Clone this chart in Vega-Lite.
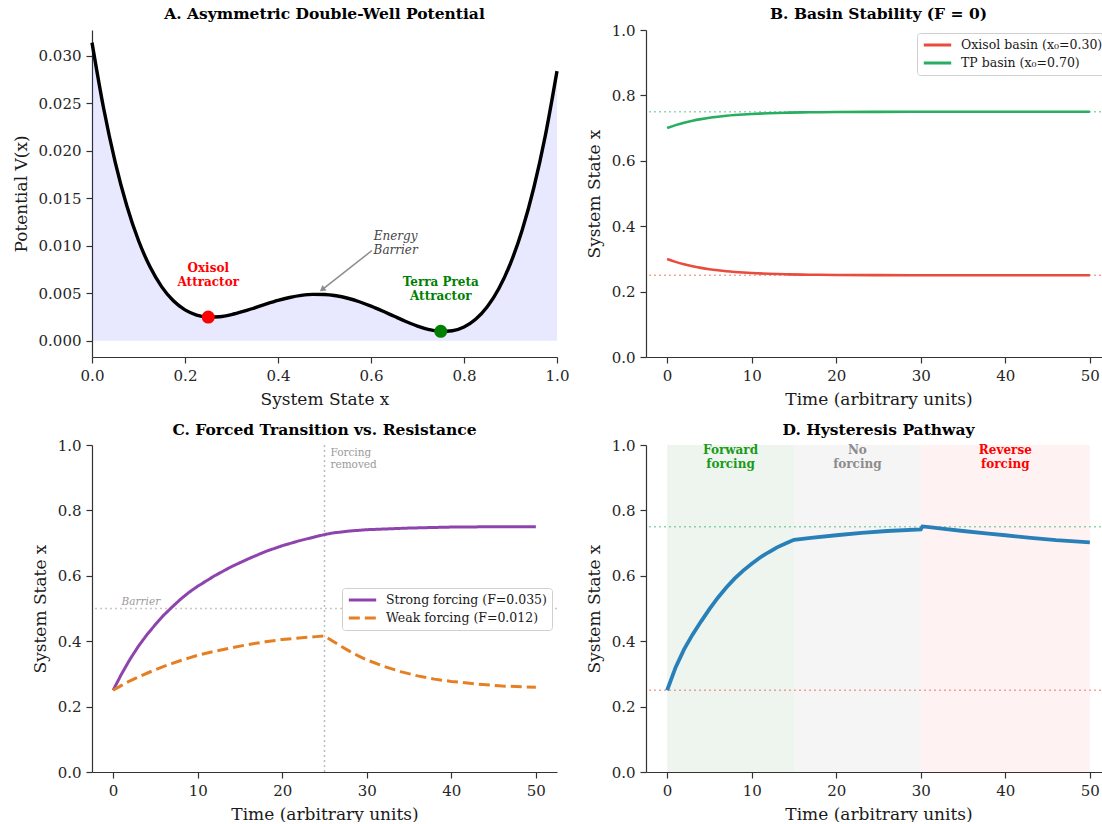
{
  "$schema": "https://vega.github.io/schema/vega-lite/v6.json",
  "padding": {"left": 12, "top": 6, "right": 0, "bottom": 0},
  "background": "white",
  "columns": 2,
  "bounds": "flush",
  "spacing": {"row": 88, "column": 89},
  "resolve": {
    "scale": {"color": "independent", "stroke": "independent", "fill": "independent", "strokeDash": "independent"},
    "legend": {"color": "independent", "stroke": "independent", "fill": "independent", "strokeDash": "independent"}
  },
  "config": {
    "font": "DejaVu Serif",
    "view": {"stroke": null},
    "axis": {"grid": false, "domainColor": "#333333", "domainWidth": 1.2, "tickColor": "#333333", "tickWidth": 1.2, "tickSize": 6, "labelFont": "DejaVu Serif", "labelFontSize": 15, "labelColor": "#262626", "labelPadding": 5, "titleFont": "DejaVu Serif", "titleFontSize": 17, "titleFontWeight": "normal", "titleColor": "#1a1a1a", "labelFlush": false, "labelOverlap": false, "titlePadding": 8},
    "title": {"font": "DejaVu Serif", "fontSize": 15.5, "fontWeight": "bold", "color": "black", "anchor": "middle"},
    "legend": {"labelFont": "DejaVu Serif", "labelFontSize": 12.5, "labelColor": "#1a1a1a", "labelLimit": 400, "strokeColor": "#d0d0d0", "fillColor": "white", "padding": 5, "cornerRadius": 3, "symbolType": "stroke", "symbolStrokeWidth": 3, "symbolSize": 750, "clipHeight": 14, "rowPadding": 4, "labelOffset": 8}
  },
  "datasets": {
    "potential": [
      {"x": 0.0, "V": 0.031375}, {"x": 0.025, "V": 0.024463}, {"x": 0.05, "V": 0.01878}, {"x": 0.075, "V": 0.014188},
      {"x": 0.1, "V": 0.010555}, {"x": 0.125, "V": 0.007758}, {"x": 0.15, "V": 0.00568}, {"x": 0.175, "V": 0.004213},
      {"x": 0.2, "V": 0.003255}, {"x": 0.225, "V": 0.002713}, {"x": 0.25, "V": 0.0025}, {"x": 0.275, "V": 0.002538},
      {"x": 0.3, "V": 0.002755}, {"x": 0.325, "V": 0.003088}, {"x": 0.35, "V": 0.00348}, {"x": 0.375, "V": 0.003883},
      {"x": 0.4, "V": 0.004255}, {"x": 0.425, "V": 0.004563}, {"x": 0.45, "V": 0.00478}, {"x": 0.475, "V": 0.004888},
      {"x": 0.5, "V": 0.004875}, {"x": 0.525, "V": 0.004738}, {"x": 0.55, "V": 0.00448}, {"x": 0.575, "V": 0.004113},
      {"x": 0.6, "V": 0.003655}, {"x": 0.625, "V": 0.003133}, {"x": 0.65, "V": 0.00258}, {"x": 0.675, "V": 0.002038},
      {"x": 0.7, "V": 0.001555}, {"x": 0.725, "V": 0.001188}, {"x": 0.75, "V": 0.001}, {"x": 0.775, "V": 0.001063},
      {"x": 0.8, "V": 0.001455}, {"x": 0.825, "V": 0.002263}, {"x": 0.85, "V": 0.00358}, {"x": 0.875, "V": 0.005508},
      {"x": 0.9, "V": 0.008155}, {"x": 0.925, "V": 0.011638}, {"x": 0.95, "V": 0.01608}, {"x": 0.975, "V": 0.021613},
      {"x": 1.0, "V": 0.028375}
    ],
    "attractors": [
      {"name": "Oxisol", "x": 0.25, "V": 0.0025, "label": "Oxisol\nAttractor", "ly": 0.00763},
      {"name": "Terra Preta", "x": 0.75, "V": 0.001, "label": "Terra Preta\nAttractor", "ly": 0.00621}
    ],
    "barrierNote": [{"x": 0.653, "V": 0.01105, "label": "Energy\nBarrier"}],
    "arrow": [{"x0": 0.602, "y0": 0.0095, "x1": 0.493, "y1": 0.0053}],
    "arrowHead": [{"x": 0.4967, "V": 0.00546}],
    "basinRefs": [{"level": 0.25, "basin": "Oxisol"}, {"level": 0.75, "basin": "TP"}],
    "basin": [
      {"t": 0, "x": 0.3, "s": "Oxisol basin (x₀=0.30)"}, {"t": 1, "x": 0.2909, "s": "Oxisol basin (x₀=0.30)"},
      {"t": 2, "x": 0.2835, "s": "Oxisol basin (x₀=0.30)"}, {"t": 3, "x": 0.2774, "s": "Oxisol basin (x₀=0.30)"},
      {"t": 4, "x": 0.2725, "s": "Oxisol basin (x₀=0.30)"}, {"t": 5, "x": 0.2684, "s": "Oxisol basin (x₀=0.30)"},
      {"t": 6, "x": 0.2651, "s": "Oxisol basin (x₀=0.30)"}, {"t": 7, "x": 0.2623, "s": "Oxisol basin (x₀=0.30)"},
      {"t": 8, "x": 0.2601, "s": "Oxisol basin (x₀=0.30)"}, {"t": 9, "x": 0.2583, "s": "Oxisol basin (x₀=0.30)"},
      {"t": 10, "x": 0.2568, "s": "Oxisol basin (x₀=0.30)"}, {"t": 12, "x": 0.2545, "s": "Oxisol basin (x₀=0.30)"},
      {"t": 14, "x": 0.253, "s": "Oxisol basin (x₀=0.30)"}, {"t": 16, "x": 0.252, "s": "Oxisol basin (x₀=0.30)"},
      {"t": 18, "x": 0.2514, "s": "Oxisol basin (x₀=0.30)"}, {"t": 20, "x": 0.2509, "s": "Oxisol basin (x₀=0.30)"},
      {"t": 25, "x": 0.2503, "s": "Oxisol basin (x₀=0.30)"}, {"t": 30, "x": 0.2501, "s": "Oxisol basin (x₀=0.30)"},
      {"t": 35, "x": 0.25, "s": "Oxisol basin (x₀=0.30)"}, {"t": 40, "x": 0.25, "s": "Oxisol basin (x₀=0.30)"},
      {"t": 50, "x": 0.25, "s": "Oxisol basin (x₀=0.30)"},
      {"t": 0, "x": 0.7, "s": "TP basin (x₀=0.70)"}, {"t": 1, "x": 0.7091, "s": "TP basin (x₀=0.70)"},
      {"t": 2, "x": 0.7165, "s": "TP basin (x₀=0.70)"}, {"t": 3, "x": 0.7226, "s": "TP basin (x₀=0.70)"},
      {"t": 4, "x": 0.7275, "s": "TP basin (x₀=0.70)"}, {"t": 5, "x": 0.7316, "s": "TP basin (x₀=0.70)"},
      {"t": 6, "x": 0.7349, "s": "TP basin (x₀=0.70)"}, {"t": 7, "x": 0.7377, "s": "TP basin (x₀=0.70)"},
      {"t": 8, "x": 0.7399, "s": "TP basin (x₀=0.70)"}, {"t": 9, "x": 0.7417, "s": "TP basin (x₀=0.70)"},
      {"t": 10, "x": 0.7432, "s": "TP basin (x₀=0.70)"}, {"t": 12, "x": 0.7455, "s": "TP basin (x₀=0.70)"},
      {"t": 14, "x": 0.747, "s": "TP basin (x₀=0.70)"}, {"t": 16, "x": 0.748, "s": "TP basin (x₀=0.70)"},
      {"t": 18, "x": 0.7486, "s": "TP basin (x₀=0.70)"}, {"t": 20, "x": 0.7491, "s": "TP basin (x₀=0.70)"},
      {"t": 25, "x": 0.7497, "s": "TP basin (x₀=0.70)"}, {"t": 30, "x": 0.7499, "s": "TP basin (x₀=0.70)"},
      {"t": 35, "x": 0.75, "s": "TP basin (x₀=0.70)"}, {"t": 40, "x": 0.75, "s": "TP basin (x₀=0.70)"},
      {"t": 50, "x": 0.75, "s": "TP basin (x₀=0.70)"}
    ],
    "forced": [
      {"t": 0, "x": 0.25, "s": "Strong forcing (F=0.035)"}, {"t": 1, "x": 0.30, "s": "Strong forcing (F=0.035)"},
      {"t": 2, "x": 0.345, "s": "Strong forcing (F=0.035)"}, {"t": 3, "x": 0.385, "s": "Strong forcing (F=0.035)"},
      {"t": 4, "x": 0.42, "s": "Strong forcing (F=0.035)"}, {"t": 5, "x": 0.451, "s": "Strong forcing (F=0.035)"},
      {"t": 6, "x": 0.48, "s": "Strong forcing (F=0.035)"}, {"t": 7, "x": 0.505, "s": "Strong forcing (F=0.035)"},
      {"t": 8, "x": 0.529, "s": "Strong forcing (F=0.035)"}, {"t": 9, "x": 0.55, "s": "Strong forcing (F=0.035)"},
      {"t": 10, "x": 0.568, "s": "Strong forcing (F=0.035)"}, {"t": 12, "x": 0.60, "s": "Strong forcing (F=0.035)"},
      {"t": 14, "x": 0.628, "s": "Strong forcing (F=0.035)"}, {"t": 16, "x": 0.652, "s": "Strong forcing (F=0.035)"},
      {"t": 18, "x": 0.674, "s": "Strong forcing (F=0.035)"}, {"t": 20, "x": 0.692, "s": "Strong forcing (F=0.035)"},
      {"t": 22, "x": 0.707, "s": "Strong forcing (F=0.035)"}, {"t": 24, "x": 0.72, "s": "Strong forcing (F=0.035)"},
      {"t": 25, "x": 0.726, "s": "Strong forcing (F=0.035)"}, {"t": 26, "x": 0.731, "s": "Strong forcing (F=0.035)"},
      {"t": 28, "x": 0.737, "s": "Strong forcing (F=0.035)"}, {"t": 30, "x": 0.741, "s": "Strong forcing (F=0.035)"},
      {"t": 35, "x": 0.746, "s": "Strong forcing (F=0.035)"}, {"t": 40, "x": 0.749, "s": "Strong forcing (F=0.035)"},
      {"t": 45, "x": 0.75, "s": "Strong forcing (F=0.035)"}, {"t": 50, "x": 0.75, "s": "Strong forcing (F=0.035)"},
      {"t": 0, "x": 0.25, "s": "Weak forcing (F=0.012)"}, {"t": 1, "x": 0.265, "s": "Weak forcing (F=0.012)"},
      {"t": 2, "x": 0.279, "s": "Weak forcing (F=0.012)"}, {"t": 3, "x": 0.291, "s": "Weak forcing (F=0.012)"},
      {"t": 4, "x": 0.302, "s": "Weak forcing (F=0.012)"}, {"t": 5, "x": 0.313, "s": "Weak forcing (F=0.012)"},
      {"t": 6, "x": 0.323, "s": "Weak forcing (F=0.012)"}, {"t": 7, "x": 0.332, "s": "Weak forcing (F=0.012)"},
      {"t": 8, "x": 0.341, "s": "Weak forcing (F=0.012)"}, {"t": 9, "x": 0.349, "s": "Weak forcing (F=0.012)"},
      {"t": 10, "x": 0.357, "s": "Weak forcing (F=0.012)"}, {"t": 12, "x": 0.369, "s": "Weak forcing (F=0.012)"},
      {"t": 14, "x": 0.38, "s": "Weak forcing (F=0.012)"}, {"t": 16, "x": 0.39, "s": "Weak forcing (F=0.012)"},
      {"t": 18, "x": 0.398, "s": "Weak forcing (F=0.012)"}, {"t": 20, "x": 0.405, "s": "Weak forcing (F=0.012)"},
      {"t": 22, "x": 0.41, "s": "Weak forcing (F=0.012)"}, {"t": 24, "x": 0.414, "s": "Weak forcing (F=0.012)"},
      {"t": 25, "x": 0.416, "s": "Weak forcing (F=0.012)"}, {"t": 26, "x": 0.40, "s": "Weak forcing (F=0.012)"},
      {"t": 27, "x": 0.384, "s": "Weak forcing (F=0.012)"}, {"t": 28, "x": 0.369, "s": "Weak forcing (F=0.012)"},
      {"t": 29, "x": 0.355, "s": "Weak forcing (F=0.012)"}, {"t": 30, "x": 0.343, "s": "Weak forcing (F=0.012)"},
      {"t": 32, "x": 0.323, "s": "Weak forcing (F=0.012)"}, {"t": 34, "x": 0.307, "s": "Weak forcing (F=0.012)"},
      {"t": 36, "x": 0.294, "s": "Weak forcing (F=0.012)"}, {"t": 38, "x": 0.284, "s": "Weak forcing (F=0.012)"},
      {"t": 40, "x": 0.277, "s": "Weak forcing (F=0.012)"}, {"t": 43, "x": 0.269, "s": "Weak forcing (F=0.012)"},
      {"t": 46, "x": 0.263, "s": "Weak forcing (F=0.012)"}, {"t": 50, "x": 0.259, "s": "Weak forcing (F=0.012)"}
    ],
    "hyst": [
      {"t": 0, "x": 0.25}, {"t": 1, "x": 0.32}, {"t": 2, "x": 0.375}, {"t": 3, "x": 0.42}, {"t": 4, "x": 0.46},
      {"t": 5, "x": 0.498}, {"t": 6, "x": 0.533}, {"t": 7, "x": 0.564}, {"t": 8, "x": 0.592}, {"t": 9, "x": 0.616},
      {"t": 10, "x": 0.637}, {"t": 11, "x": 0.656}, {"t": 12, "x": 0.672}, {"t": 13, "x": 0.687}, {"t": 14, "x": 0.699},
      {"t": 15, "x": 0.71}, {"t": 17, "x": 0.716}, {"t": 20, "x": 0.724}, {"t": 23, "x": 0.731}, {"t": 26, "x": 0.737},
      {"t": 30, "x": 0.742}, {"t": 30.2, "x": 0.751}, {"t": 31, "x": 0.749}, {"t": 33, "x": 0.743}, {"t": 35, "x": 0.737},
      {"t": 38, "x": 0.729}, {"t": 40, "x": 0.724}, {"t": 43, "x": 0.716}, {"t": 46, "x": 0.709}, {"t": 50, "x": 0.702}
    ],
    "phases": [
      {"phase": "Forward", "start": 0, "end": 15, "mid": 7.5, "label": "Forward\nforcing"},
      {"phase": "None", "start": 15, "end": 30, "mid": 22.5, "label": "No\nforcing"},
      {"phase": "Reverse", "start": 30, "end": 50, "mid": 40, "label": "Reverse\nforcing"}
    ],
    "barrierLine": [{"level": 0.5, "t": 1, "label": "Barrier", "ly": 0.52}],
    "removal": [{"t": 25, "tx": 25.7, "ly": 0.976, "label": "Forcing\nremoved"}]
  },
  "concat": [
    {
      "width": 465, "height": 327,
      "title": {"text": "A. Asymmetric Double-Well Potential", "offset": 8},
      "layer": [
        {
          "data": {"name": "potential"},
          "mark": {"type": "area", "color": "#0000ff", "opacity": 0.09, "interpolate": "monotone"},
          "encoding": {
            "x": {"field": "x", "type": "quantitative", "scale": {"domain": [0, 1], "nice": false, "zero": false}, "axis": {"values": [0, 0.2, 0.4, 0.6, 0.8, 1.0], "format": ".1f", "title": "System State x"}},
            "y": {"field": "V", "type": "quantitative", "scale": {"domain": [-0.0017, 0.0327], "nice": false, "zero": false}, "axis": {"values": [0, 0.005, 0.01, 0.015, 0.02, 0.025, 0.03], "format": ".3f", "title": "Potential V(x)"}},
            "y2": {"datum": 0}
          }
        },
        {
          "data": {"name": "potential"},
          "mark": {"type": "line", "color": "black", "strokeWidth": 3.4, "interpolate": "monotone"},
          "encoding": {"x": {"field": "x", "type": "quantitative"}, "y": {"field": "V", "type": "quantitative"}}
        },
        {
          "data": {"name": "arrow"},
          "mark": {"type": "rule", "color": "#8c8c8c", "strokeWidth": 1.5},
          "encoding": {"x": {"field": "x0", "type": "quantitative"}, "y": {"field": "y0", "type": "quantitative"}, "x2": {"field": "x1"}, "y2": {"field": "y1"}}
        },
        {
          "data": {"name": "arrowHead"},
          "mark": {"type": "point", "shape": "triangle", "filled": true, "color": "#8c8c8c", "size": 45, "angle": 232, "opacity": 1},
          "encoding": {"x": {"field": "x", "type": "quantitative"}, "y": {"field": "V", "type": "quantitative"}}
        },
        {
          "data": {"name": "attractors"},
          "mark": {"type": "point", "filled": true, "size": 170, "opacity": 1},
          "encoding": {
            "x": {"field": "x", "type": "quantitative"}, "y": {"field": "V", "type": "quantitative"},
            "color": {"field": "name", "type": "nominal", "scale": {"domain": ["Oxisol", "Terra Preta"], "range": ["#ff0000", "#008000"]}, "legend": null}
          }
        },
        {
          "data": {"name": "attractors"},
          "mark": {"type": "text", "fontWeight": "bold", "fontSize": 12, "lineBreak": "\n", "align": "center", "baseline": "middle", "lineHeight": 14},
          "encoding": {
            "x": {"field": "x", "type": "quantitative"}, "y": {"field": "ly", "type": "quantitative"},
            "text": {"field": "label"},
            "color": {"field": "name", "type": "nominal", "legend": null}
          }
        },
        {
          "data": {"name": "barrierNote"},
          "mark": {"type": "text", "fontStyle": "italic", "fontSize": 12, "lineBreak": "\n", "align": "center", "baseline": "middle", "color": "#444444", "lineHeight": 14},
          "encoding": {"x": {"field": "x", "type": "quantitative"}, "y": {"field": "V", "type": "quantitative"}, "text": {"field": "label"}}
        }
      ]
    },
    {
      "width": 465, "height": 327,
      "title": {"text": "B. Basin Stability (F = 0)", "offset": 1},
      "layer": [
        {
          "data": {"name": "basinRefs"},
          "mark": {"type": "rule", "strokeDash": [2, 3], "strokeWidth": 1.5, "opacity": 0.5},
          "encoding": {
            "y": {"field": "level", "type": "quantitative", "scale": {"domain": [0, 1], "nice": false}, "axis": {"values": [0, 0.2, 0.4, 0.6, 0.8, 1.0], "format": ".1f", "title": "System State x"}},
            "color": {"field": "basin", "type": "nominal", "scale": {"domain": ["Oxisol", "TP"], "range": ["#e74c3c", "#27ae60"]}, "legend": null}
          }
        },
        {
          "data": {"name": "basin"},
          "mark": {"type": "line", "strokeWidth": 2.6, "interpolate": "monotone"},
          "encoding": {
            "x": {"field": "t", "type": "quantitative", "scale": {"domain": [-2.5, 52.5], "nice": false, "zero": false}, "axis": {"values": [0, 10, 20, 30, 40, 50], "title": "Time (arbitrary units)"}},
            "y": {"field": "x", "type": "quantitative"},
            "stroke": {"field": "s", "type": "nominal", "scale": {"domain": ["Oxisol basin (x₀=0.30)", "TP basin (x₀=0.70)"], "range": ["#e74c3c", "#27ae60"]}, "legend": {"title": null, "orient": "none", "legendX": 271, "legendY": 3}}
          }
        }
      ]
    },
    {
      "width": 465, "height": 327,
      "title": {"text": "C. Forced Transition vs. Resistance", "offset": 0},
      "layer": [
        {
          "data": {"name": "barrierLine"},
          "mark": {"type": "rule", "strokeDash": [2, 3], "strokeWidth": 1.5, "color": "#b0b0b0", "opacity": 0.7},
          "encoding": {"y": {"field": "level", "type": "quantitative", "scale": {"domain": [0, 1], "nice": false}, "axis": {"values": [0, 0.2, 0.4, 0.6, 0.8, 1.0], "format": ".1f", "title": "System State x"}}}
        },
        {
          "data": {"name": "removal"},
          "mark": {"type": "rule", "strokeDash": [2, 3], "strokeWidth": 1.5, "color": "#a0a0a0", "opacity": 0.7},
          "encoding": {"x": {"field": "t", "type": "quantitative", "scale": {"domain": [-2.5, 52.5], "nice": false, "zero": false}, "axis": {"values": [0, 10, 20, 30, 40, 50], "title": "Time (arbitrary units)"}}}
        },
        {
          "data": {"name": "forced"},
          "mark": {"type": "line", "strokeWidth": 3},
          "encoding": {
            "x": {"field": "t", "type": "quantitative"},
            "y": {"field": "x", "type": "quantitative"},
            "color": {"field": "s", "type": "nominal", "scale": {"domain": ["Strong forcing (F=0.035)", "Weak forcing (F=0.012)"], "range": ["#8e44ad", "#e67e22"]}, "legend": {"title": null, "orient": "none", "legendX": 250, "legendY": 143}},
            "strokeDash": {"field": "s", "type": "nominal", "scale": {"domain": ["Strong forcing (F=0.035)", "Weak forcing (F=0.012)"], "range": [[1, 0], [11, 5]]}, "legend": {"title": null, "orient": "none", "legendX": 250, "legendY": 143}}
          }
        },
        {
          "data": {"name": "barrierLine"},
          "mark": {"type": "text", "fontStyle": "italic", "fontSize": 10.5, "color": "#9a9a9a", "align": "left", "baseline": "middle"},
          "encoding": {"x": {"field": "t", "type": "quantitative"}, "y": {"field": "ly", "type": "quantitative"}, "text": {"field": "label"}}
        },
        {
          "data": {"name": "removal"},
          "mark": {"type": "text", "fontSize": 10.5, "color": "#9a9a9a", "align": "left", "baseline": "middle", "lineBreak": "\n", "lineHeight": 12},
          "encoding": {"x": {"field": "tx", "type": "quantitative"}, "y": {"field": "ly", "type": "quantitative"}, "text": {"field": "label"}}
        }
      ]
    },
    {
      "width": 465, "height": 327,
      "title": {"text": "D. Hysteresis Pathway", "offset": 0},
      "layer": [
        {
          "data": {"name": "phases"},
          "mark": {"type": "rect"},
          "encoding": {
            "x": {"field": "start", "type": "quantitative", "scale": {"domain": [-2.5, 52.5], "nice": false, "zero": false}, "axis": {"values": [0, 10, 20, 30, 40, 50], "title": "Time (arbitrary units)"}},
            "x2": {"field": "end"},
            "fill": {"field": "phase", "type": "nominal", "scale": {"domain": ["Forward", "None", "Reverse"], "range": ["#eef5ee", "#f5f5f5", "#fef3f2"]}, "legend": null}
          }
        },
        {
          "data": {"name": "basinRefs"},
          "mark": {"type": "rule", "strokeDash": [2, 3], "strokeWidth": 1.5, "opacity": 0.5},
          "encoding": {
            "y": {"field": "level", "type": "quantitative", "scale": {"domain": [0, 1], "nice": false}, "axis": {"values": [0, 0.2, 0.4, 0.6, 0.8, 1.0], "format": ".1f", "title": "System State x"}},
            "stroke": {"field": "basin", "type": "nominal", "scale": {"domain": ["Oxisol", "TP"], "range": ["#e74c3c", "#27ae60"]}, "legend": null}
          }
        },
        {
          "data": {"name": "hyst"},
          "mark": {"type": "line", "strokeWidth": 3.8, "color": "#2980b9"},
          "encoding": {"x": {"field": "t", "type": "quantitative"}, "y": {"field": "x", "type": "quantitative"}}
        },
        {
          "data": {"name": "phases"},
          "mark": {"type": "text", "fontWeight": "bold", "fontSize": 12, "align": "center", "baseline": "middle", "lineBreak": "\n", "lineHeight": 14},
          "encoding": {
            "x": {"field": "mid", "type": "quantitative"},
            "y": {"datum": 0.986, "type": "quantitative"},
            "text": {"field": "label"},
            "color": {"field": "phase", "type": "nominal", "scale": {"domain": ["Forward", "None", "Reverse"], "range": ["#1a9a1a", "#8c8c8c", "#ff0000"]}, "legend": null}
          }
        }
      ]
    }
  ]
}
